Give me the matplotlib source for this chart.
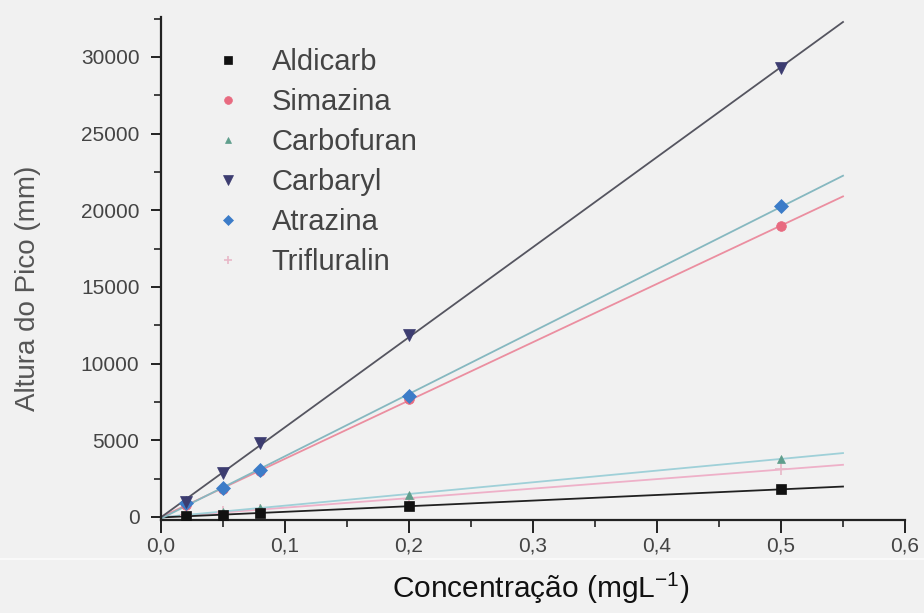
import numpy as np
import matplotlib.pyplot as plt
from matplotlib.lines import Line2D

plt.rcParams['font.family'] = ['Liberation Sans', 'DejaVu Sans']
plt.rcParams['mathtext.default'] = 'regular'

# concentrations (mg/L) and peak heights for each pesticide
conc = [0.02, 0.05, 0.08, 0.2, 0.5]
aldicarb = [50, 150, 250, 700, 1800]
simazina = [800, 1800, 3000, 7700, 18970]
carbofuran = [150, 350, 600, 1450, 3800]
carbaryl = [980, 2870, 4820, 11860, 29270]
atrazina = [900, 1890, 3060, 7890, 20280]
trifluralin = [120, 300, 480, 1200, 3100]

names = ['Aldicarb', 'Simazina', 'Carbofuran', 'Carbaryl', 'Atrazina', 'Trifluralin']
series = [aldicarb, simazina, carbofuran, carbaryl, atrazina, trifluralin]
markers = ['s', 'o', '^', 'v', 'D', '+']
marker_colors = ['#111111', '#e86a80', '#5f9e8c', '#3c3c70', '#3c7cc8', '#e8b8c8']
line_colors = ['#202020', '#eb8ea0', '#9fd0d8', '#555560', '#86b8c0', '#eeb0c8']
marker_sizes = [7, 7, 6, 9, 7, 8]

bg = '#f1f1f1'
fig = plt.figure(figsize=(9.24, 6.13), dpi=100, facecolor=bg)
ax = fig.add_axes([161 / 924, 0.1517, 744 / 924, 0.8206], facecolor=bg)

x_fit = np.array([0.0, 0.55])
# regression lines first, points on top
order = [5, 2, 0, 1, 4, 3]
for i in order:
    slope, icpt = np.polyfit(conc, series[i], 1)
    ax.plot(x_fit, slope * x_fit + icpt, color=line_colors[i], lw=1.3, zorder=2)

handles = {}
for i in order:
    h, = ax.plot(conc, series[i], linestyle='none', marker=markers[i],
                 color=marker_colors[i], markersize=marker_sizes[i],
                 markeredgewidth=1.2 if markers[i] == '+' else 0.5, zorder=3)
    handles[i] = h

ax.set_xlim(0, 0.6)
ax.set_ylim(-200, 32600)
ax.spines['top'].set_visible(False)
ax.spines['right'].set_visible(False)
for s in ['left', 'bottom']:
    ax.spines[s].set_linewidth(1.6)
    ax.spines[s].set_color('#222222')

xt = np.arange(0, 0.61, 0.1)
ax.set_xticks(xt)
ax.set_xticklabels([f'{v:.1f}'.replace('.', ',') for v in xt])
ax.set_xticks(np.arange(0.05, 0.6, 0.1), minor=True)
ax.set_yticks(np.arange(0, 30001, 5000))
ax.set_yticks(np.arange(2500, 32501, 5000), minor=True)
ax.tick_params(which='both', direction='out', labelsize=15, labelcolor='#444444', color='#222222')
ax.tick_params(axis='x', which='major', length=9, width=1.4, pad=3)
ax.tick_params(axis='x', which='minor', length=5, width=1.2)
ax.tick_params(axis='y', which='major', length=7.5, width=1.4, pad=8)
ax.tick_params(axis='y', which='minor', length=5, width=1.2)

fig.text(541 / 924, 1 - 588 / 613, 'Concentração (mgL$^{-1}$)', fontsize=21.5,
         ha='center', va='center', color='#111111')
fig.text(28 / 924, 1 - 288 / 613, 'Altura do Pico (mm)', fontsize=20, rotation=90,
         ha='center', va='center', color='#555555')

# thin light rule between the tick labels and the axis title
fig.add_artist(Line2D([0, 1], [1 - 559 / 613] * 2, transform=fig.transFigure,
                      color='white', lw=1.2, alpha=0.7))

leg = ax.legend([handles[i] for i in range(6)], names, loc='upper left',
                bbox_to_anchor=(0.025, 0.99), frameon=False, fontsize=21,
                labelspacing=0.41, handletextpad=0.75, handlelength=1.5,
                markerscale=0.8)
for t in leg.get_texts():
    t.set_color('#444444')

fig.savefig('out.png', dpi=100, facecolor=bg)
